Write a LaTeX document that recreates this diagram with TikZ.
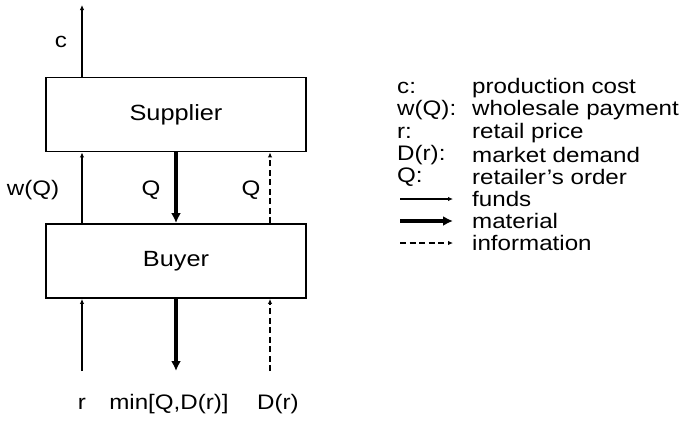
\documentclass[tikz,border=0pt]{standalone}
\usepackage{fontspec}
\setmainfont{Liberation Sans}[FakeStretch=1.15]
\usetikzlibrary{arrows.meta, positioning, calc}

\begin{document}
\begin{tikzpicture}[
        x=1pt, y=-1pt,
        agent/.style={
            draw,
            line width=1.9pt,
            minimum width=260pt,
            minimum height=74pt,
            font=\fontsize{22}{26}\selectfont
        },
        label/.style={font=\fontsize{21}{25}\selectfont, inner sep=1pt},
        keyword/.style={label, anchor=west},
        funds/.style={-{Latex[length=5pt, width=4.5pt]}, line width=1.1pt},
        material/.style={-{Latex[length=10pt, width=10pt]}, line width=3.3pt},
        information/.style={funds, dash pattern=on 6pt off 3.5pt}
    ]

        % Cadre de l'image
        \useasboundingbox (0,0) rectangle (683,421);

        % Acteurs
        \node[agent] (supplier) at (176,114.5) {Supplier};
        \node[agent] (buyer) at (176,261) {Buyer};

        % Colonnes des flux
        \coordinate (colL) at (82,0);
        \coordinate (colM) at (176,0);
        \coordinate (colR) at (270,0);
        \coordinate (costTop) at (82,5);
        \coordinate (priceIn) at (82,371);
        \coordinate (salesOut) at (176,371);
        \coordinate (demandIn) at (270,371);

        % Flux entre les acteurs
        \draw[funds] (supplier.north -| colL) -- (costTop);
        \draw[funds] (buyer.north -| colL) -- (supplier.south -| colL);
        \draw[material] (supplier.south -| colM) -- (buyer.north -| colM);
        \draw[information] (buyer.north -| colR) -- (supplier.south -| colR);
        \draw[funds] (priceIn) -- (buyer.south -| colL);
        \draw[material] (buyer.south -| colM) -- (salesOut);
        \draw[information] (demandIn) -- (buyer.south -| colR);

        % Etiquettes des flux
        \node[label] (cost) at (61,42) {c};
        \node[label] (wage) at (33,190) {w(Q)};
        \node[label] (order) at (151,190) {Q};
        \node[label] (orderInfo) at (251,190) {Q};
        \node[label] (price) at (82,404) {r};
        \node[label] (sales) at (169,404) {min[Q,D(r)]};
        \node[label] (demand) at (278,404) {D(r)};

        % Legende
        \node[keyword] (keyC) at (396,88) {c:};
        \node[keyword] (keyW) at (396,110) {w(Q):};
        \node[keyword] (keyR) at (396,133) {r:};
        \node[keyword] (keyD) at (396,155) {D(r):};
        \node[keyword] (keyQ) at (396,177) {Q:};

        \node[keyword] (descC) at (471,88) {production cost};
        \node[keyword] (descW) at (471,110) {wholesale payment};
        \node[keyword] (descR) at (471,133) {retail price};
        \node[keyword] (descD) at (471,155) {market demand};
        \node[keyword] (descQ) at (471,177) {retailer's order};
        \node[keyword] (descFunds) at (471,199) {funds};
        \node[keyword] (descMaterial) at (471,221) {material};
        \node[keyword] (descInfo) at (471,243) {information};

        \coordinate (startFunds) at (400,199);
        \coordinate (startMaterial) at (400,221);
        \coordinate (startInfo) at (400,243);

        \draw[funds] (startFunds) -- (descFunds.west -| 453,0);
        \draw[material] (startMaterial) -- (descMaterial.west -| 453,0);
        \draw[information] (startInfo) -- (descInfo.west -| 453,0);

    \end{tikzpicture}
\end{document}
